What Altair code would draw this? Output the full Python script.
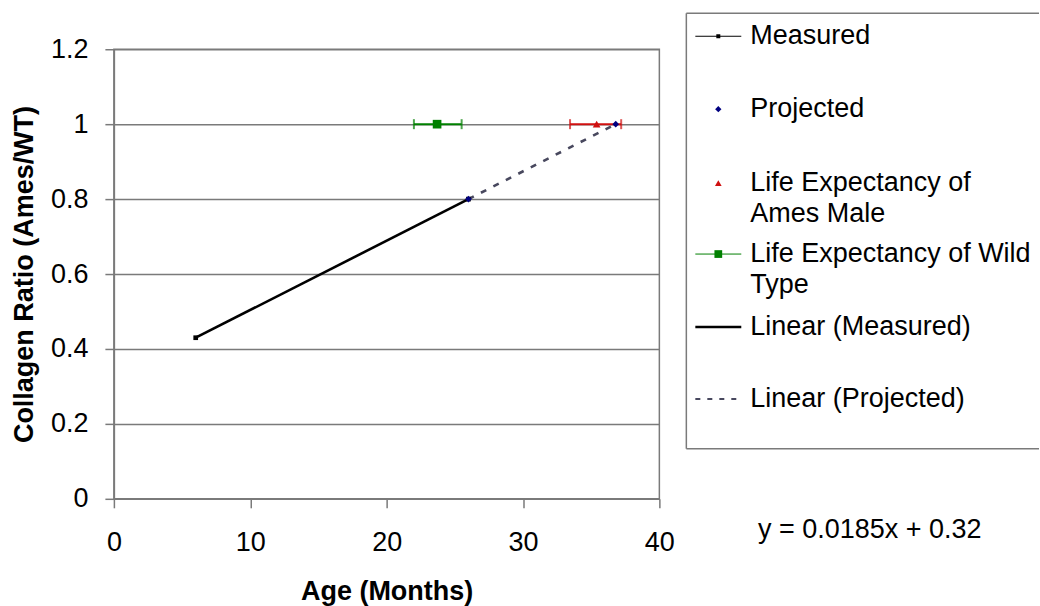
import altair as alt
import pandas as pd

FONT = "Liberation Sans"

# ---- data ----
measured_age = [6, 26]
measured_ratio = [0.43, 0.80]
projected_age = [26, 36.8]
projected_ratio = [0.80, 1.00]
ames_age = [35.4]
ames_ratio = [1.0]
ames_low = [33.45]
ames_high = [37.2]
wild_age = [23.7]
wild_ratio = [1.0]
wild_low = [22.0]
wild_high = [25.5]
x_ticks = [0, 10, 20, 30, 40]
y_ticks = [0, 0.2, 0.4, 0.6, 0.8, 1.0, 1.2]
equation = "y = 0.0185x + 0.32"
legend_labels = [
    "Measured",
    "Projected",
    "Life Expectancy of\nAmes Male",
    "Life Expectancy of Wild\nType",
    "Linear (Measured)",
    "Linear (Projected)",
]
# legend layout (vertical position of each entry inside the legend box, px from box top)
legend_rows = [23, 96, 170, 241, 314, 386]
LEG_LINE = 31
LEG_W, LEG_H = 353, 436
LEG_TOP_OVERHANG = 36  # the legend box starts this far above the plot area top

meas_df = pd.DataFrame({"age": measured_age, "ratio": measured_ratio})
proj_df = pd.DataFrame({"age": projected_age, "ratio": projected_ratio})
ames_df = pd.DataFrame({"age": ames_age, "ratio": ames_ratio, "low": ames_low, "high": ames_high})
wild_df = pd.DataFrame({"age": wild_age, "ratio": wild_ratio, "low": wild_low, "high": wild_high})

GRAY = "#7A7A7A"
NAVY = "#000080"
RED = "#D01010"
GREEN = "#008000"
DASH = "#48485E"

xscale = alt.Scale(domain=[0, 40], nice=False, zero=False)
yscale = alt.Scale(domain=[0, 1.2], nice=False)
xaxis = alt.Axis(values=x_ticks, grid=False, tickSize=9, labelPadding=22, titlePadding=23, labelFlush=False)
yaxis = alt.Axis(values=y_ticks, grid=True, format="~g", tickSize=9, labelPadding=17, titlePadding=12,
                 labelFlush=False)


def X(f):
    return alt.X(f, type="quantitative", scale=xscale, axis=xaxis, title="Age (Months)")


def Y(f):
    return alt.Y(f, type="quantitative", scale=yscale, axis=yaxis, title="Collagen Ratio (Ames/WT)")


wild_err = alt.Chart(wild_df).mark_errorbar(
    ticks={"size": 10, "thickness": 2}, thickness=2, color=GREEN
).encode(x=X("low"), x2="high:Q", y=Y("ratio"))
ames_err = alt.Chart(ames_df).mark_errorbar(
    ticks={"size": 10, "thickness": 2}, thickness=2, color=RED
).encode(x=X("low"), x2="high:Q", y=Y("ratio"))

meas_trend = alt.Chart(meas_df).transform_regression("age", "ratio").mark_line(
    color="black", strokeWidth=2.6
).encode(x=X("age"), y=Y("ratio"))
proj_trend = alt.Chart(proj_df).transform_regression("age", "ratio").mark_line(
    color=DASH, strokeWidth=2.6, strokeDash=[6, 8]
).encode(x=X("age"), y=Y("ratio"))

meas_line = alt.Chart(meas_df).mark_line(color="black", strokeWidth=1).encode(x=X("age"), y=Y("ratio"))
meas_pts = alt.Chart(meas_df).mark_point(shape="square", filled=True, color="black", size=22, opacity=1).encode(
    x=X("age"), y=Y("ratio"))
wild_pt = alt.Chart(wild_df).mark_point(shape="square", filled=True, color=GREEN, size=75, opacity=1).encode(
    x=X("age"), y=Y("ratio"))
ames_pt = alt.Chart(ames_df).mark_point(shape="triangle-up", filled=True, color=RED, size=60, opacity=1).encode(
    x=X("age"), y=Y("ratio"))
proj_pts = alt.Chart(proj_df).mark_point(shape="diamond", filled=True, color=NAVY, size=45, opacity=1).encode(
    x=X("age"), y=Y("ratio"))

main = alt.layer(
    wild_err, ames_err, meas_trend, proj_trend, meas_line, meas_pts, wild_pt, ames_pt, proj_pts
).properties(width=546, height=450)

# ---- legend panel ----
leg_df = pd.DataFrame({"label": legend_labels, "ly": legend_rows})
line_rows = []
for lab, ly in zip(legend_labels, legend_rows):
    for i, part in enumerate(lab.split("\n")):
        line_rows.append({"text": part, "ly": ly + i * LEG_LINE})
leg_text_df = pd.DataFrame(line_rows)
box_df = pd.DataFrame({"top": [0], "bottom": [LEG_H]})

PANEL_H = LEG_H - LEG_TOP_OVERHANG
LY_SCALE = alt.Scale(domain=[LEG_TOP_OVERHANG, LEG_H], reverse=True, nice=False, zero=False)
LY = alt.Y("ly:Q", scale=LY_SCALE, axis=None)

leg_base = alt.Chart(leg_df)


def leg_rule(label, **kw):
    return leg_base.transform_filter(alt.datum.label == label).mark_rule(**kw).encode(
        x=alt.value(9), x2=alt.value(55), y=LY)


def leg_point(label, **kw):
    return leg_base.transform_filter(alt.datum.label == label).mark_point(filled=True, opacity=1, **kw).encode(
        x=alt.value(32), y=LY)


box = alt.Chart(box_df)
box_top = box.mark_rule(color=GRAY, strokeWidth=1.5).encode(
    x=alt.value(0), x2=alt.value(LEG_W), y=alt.Y("top:Q", scale=LY_SCALE, axis=None))
box_bottom = box.mark_rule(color=GRAY, strokeWidth=1.5).encode(
    x=alt.value(0), x2=alt.value(LEG_W), y=alt.Y("bottom:Q", scale=LY_SCALE, axis=None))
box_left = box.mark_rule(color=GRAY, strokeWidth=1.5).encode(
    x=alt.value(0), y=alt.Y("top:Q", scale=LY_SCALE, axis=None), y2="bottom:Q")

leg_text = alt.Chart(leg_text_df).mark_text(
    align="left", baseline="middle", font=FONT, fontSize=27, color="black"
).encode(x=alt.value(64), y=LY, text="text:N")

legend = alt.layer(
    box_top, box_bottom, box_left,
    leg_rule("Measured", color="black", strokeWidth=1),
    leg_point("Measured", shape="square", color="black", size=16),
    leg_point("Projected", shape="diamond", color=NAVY, size=40),
    leg_point(legend_labels[2], shape="triangle-up", color=RED, size=45),
    leg_rule(legend_labels[3], color=GREEN, strokeWidth=1),
    leg_point(legend_labels[3], shape="square", color=GREEN, size=60),
    leg_rule("Linear (Measured)", color="black", strokeWidth=2.6),
    leg_rule("Linear (Projected)", color=DASH, strokeWidth=2, strokeDash=[5, 7]),
    leg_text,
).properties(
    width=LEG_W, height=PANEL_H,
    view=alt.ViewBackground(strokeOpacity=0),
    title=alt.TitleParams(equation, orient="bottom", offset=67, dx=7, fontSize=27, font=FONT,
                          fontWeight="normal", color="black", anchor="middle"),
)

chart = alt.hconcat(main, legend, spacing=10).properties(
    padding={"left": 9, "top": 12, "right": 0, "bottom": 0},
    background="white",
).configure_view(
    stroke=GRAY, strokeWidth=1.5
).configure_axis(
    labelFont=FONT, labelFontSize=27, labelColor="black",
    titleFont=FONT, titleFontSize=27, titleFontWeight="bold", titleColor="black",
    domainColor=GRAY, tickColor=GRAY, gridColor=GRAY,
    domainWidth=1.5, tickWidth=1.5, gridWidth=1.5, gridOpacity=1,
)

chart.save("out.html", embed_options={"renderer": "svg", "actions": False})
